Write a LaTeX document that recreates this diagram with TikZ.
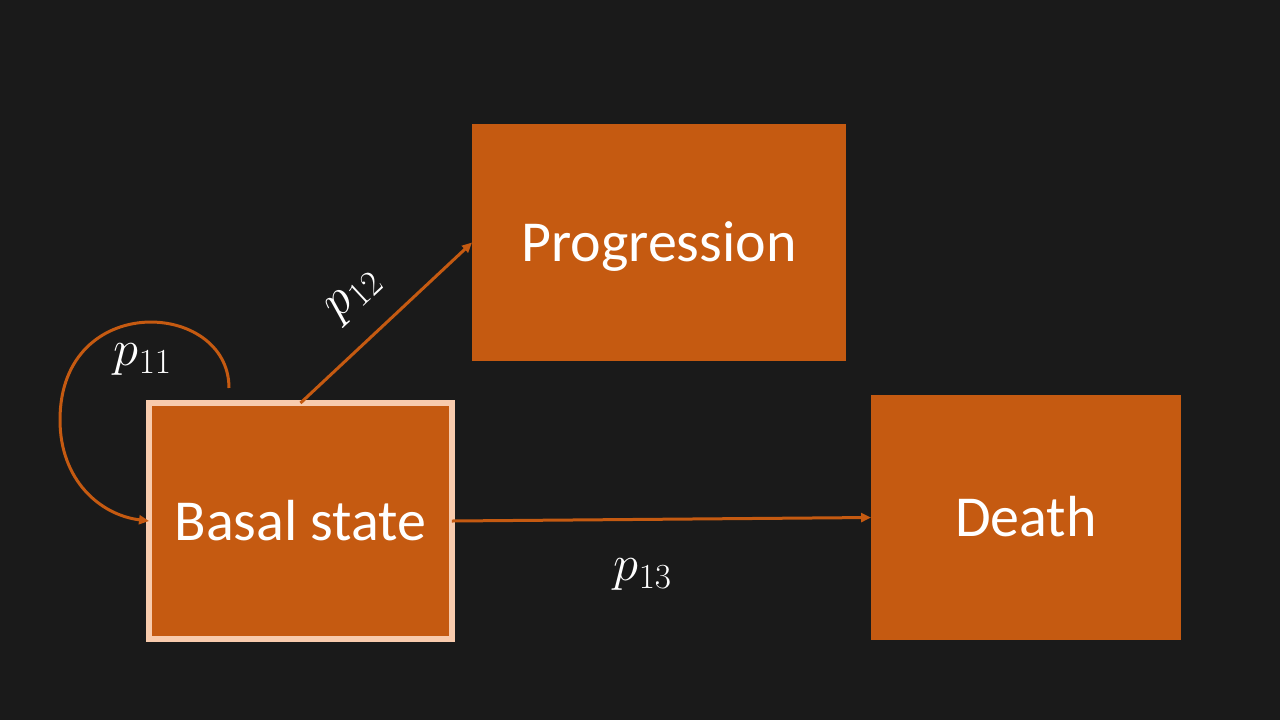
\documentclass[tikz,border=0pt]{standalone}
\usepackage{fontspec}
\setmainfont{Carlito}
\usetikzlibrary{arrows.meta}
\definecolor{bg}{HTML}{1A1A1A}
\definecolor{orng}{HTML}{C55A11}
\definecolor{peach}{HTML}{F8CBAD}
\tikzset{
  statebox/.style={rectangle, fill=orng, text=white, outer sep=0pt, inner sep=0pt, text height=28pt, text depth=6pt, font=\fontsize{33}{40}\selectfont},
  trans/.style={draw=orng, line width=0.06cm, -{Triangle[length=0.2cm,width=0.18cm]}},
  plabel/.style={text=white, font=\fontsize{24}{28}\selectfont, inner sep=0pt, scale=1.16}
}
\begin{document}
\begin{tikzpicture}[x=0.02cm,y=-0.02cm]
\fill[bg] (0,0) rectangle (1280,720);
\useasboundingbox (0,0) rectangle (1280,720);
\node[statebox, minimum width=7.48cm, minimum height=4.74cm] (prog) at (659,242.5) {Progression};
\node[statebox, minimum width=6.2cm, minimum height=4.9cm] (death) at (1026,517.5) {Death};
\node[statebox, draw=peach, line width=0.12cm, minimum width=6.06cm, minimum height=4.72cm] (basal) at (300.5,521) {Basal state};
\coordinate (ls) at (229,388);
\draw[trans] (basal.north) -- (prog.west);
\draw[trans] (basal.east) -- (death.west);
\draw[trans] (ls) .. controls (229,300) and (60,290) .. (60,420) .. controls (60,480) and (100,515) .. (basal.west);
\node[plabel] (p11) at (143,360) {$p_{11}$};
\node[plabel, rotate=43] (p12) at (355,296) {$p_{12}$};
\node[plabel] (p13) at (643,575) {$p_{13}$};
\end{tikzpicture}
\end{document}
